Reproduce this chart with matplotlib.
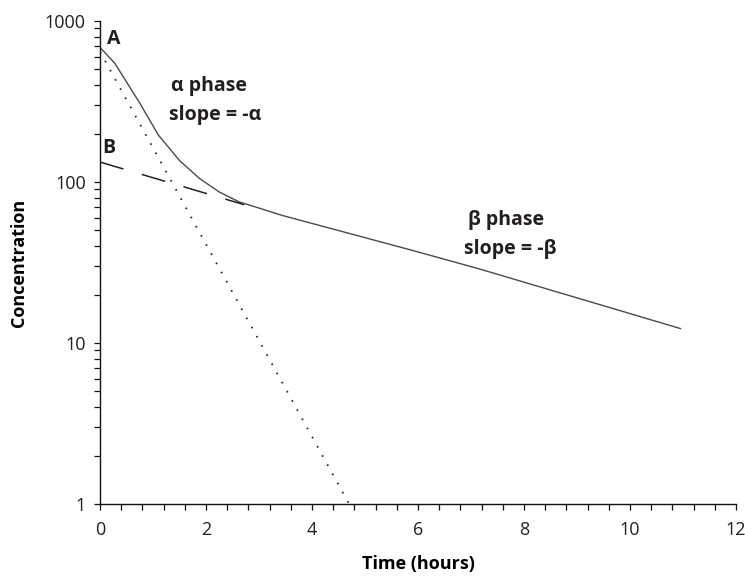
#!/usr/bin/env python

import numpy as np
from matplotlib import pyplot as plt
from matplotlib.ticker import FixedLocator, LogLocator, MultipleLocator, NullFormatter

# observed plasma concentration (two-compartment decay)
time_hours = [0.0, 0.28, 0.75, 1.1, 1.5, 1.88, 2.25, 2.63, 3.0, 3.43, 5.83, 7.15, 10.95]
concentration = [686, 546, 309, 196, 136, 105, 86.7, 75.1, 68.9, 62.1, 38.1, 28.9, 12.3]

# back-extrapolated beta phase line (intercept B)
beta_time = [0.0, 2.72]
beta_conc = [133, 72.3]

# residual alpha phase line (intercept A)
alpha_time = [0.0, 4.7]
alpha_conc = [645, 1.0]

x_ticks = [0, 2, 4, 6, 8, 10, 12]
y_ticks = [1, 10, 100, 1000]

text_color = '#231f20'
line_color = '#4a4a4a'

plt.rcParams['font.family'] = ['Open Sans', 'DejaVu Sans']
plt.rcParams['font.size'] = 13
plt.rcParams['text.color'] = text_color

fig = plt.figure(figsize=(7.45, 5.84), dpi=100)
ax = fig.add_axes([100 / 745, 80 / 584, 636 / 745, 483 / 584])

ax.plot(time_hours, concentration, color=line_color, linewidth=1.0)
ax.plot(beta_time, beta_conc, color='#222222', linewidth=1.1, linestyle=(0, (16, 12.5)))
ax.plot(alpha_time, alpha_conc, color='#222222', linewidth=1.3, linestyle=(0, (0.9, 4.9)))

ax.set_yscale('log')
ax.set_xlim(0, 12)
ax.set_ylim(1, 1000)

ax.xaxis.set_major_locator(FixedLocator(x_ticks))
ax.xaxis.set_minor_locator(MultipleLocator(0.4))
ax.yaxis.set_major_locator(FixedLocator(y_ticks))
ax.yaxis.set_minor_locator(LogLocator(base=10, subs=np.arange(2, 10)))
ax.yaxis.set_minor_formatter(NullFormatter())
ax.set_yticklabels([str(v) for v in y_ticks])

for side in ['top', 'right']:
    ax.spines[side].set_visible(False)
for side in ['left', 'bottom']:
    ax.spines[side].set_linewidth(1.0)
    ax.spines[side].set_color('#111111')

ax.tick_params(axis='x', which='both', direction='out', length=4, width=0.9,
               colors='#111111', labelcolor=text_color, pad=8)
ax.tick_params(axis='y', which='both', direction='out', length=4.3, width=0.9,
               colors='#111111', labelcolor=text_color, pad=6)

ax.set_xlabel('Time (hours)', fontweight='bold', labelpad=12)
ax.set_ylabel('Concentration', fontweight='bold', labelpad=12)

# phase annotations
note = dict(fontweight='bold', fontsize=14, va='center')
ax.text(0.13, 773, 'A', ha='left', **note)
ax.text(0.05, 162, 'B', ha='left', **note)
ax.text(2.06, 394, '\u03b1 phase', ha='center', **note)
ax.text(2.17, 260, 'slope = -\u03b1', ha='center', **note)
ax.text(7.67, 57.8, '\u03b2 phase', ha='center', **note)
ax.text(7.74, 38.1, 'slope = -\u03b2', ha='center', **note)

fig.savefig('out.png', dpi=100)
